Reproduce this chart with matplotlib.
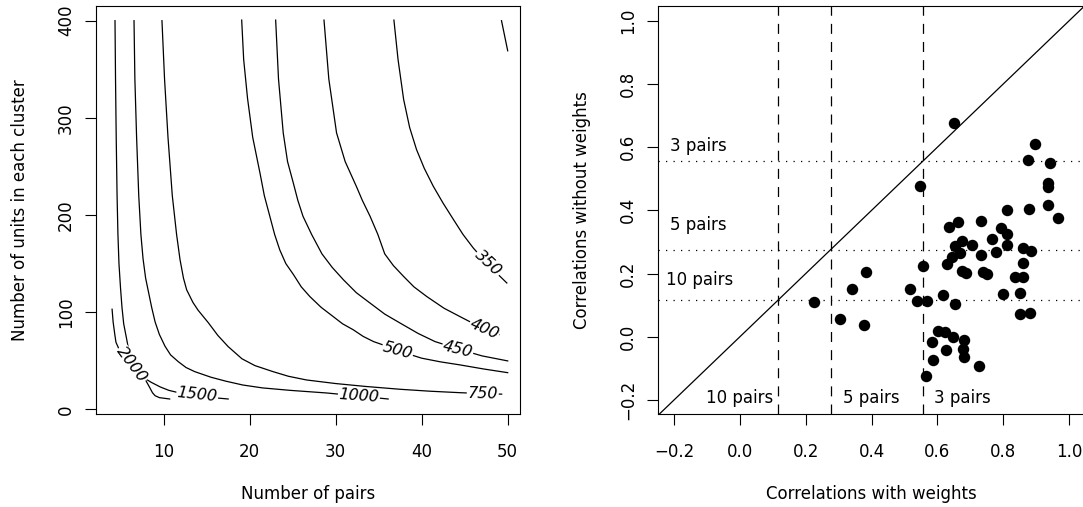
import matplotlib
matplotlib.use("Agg")
import matplotlib.pyplot as plt

plt.rcParams['font.family'] = 'DejaVu Sans'
plt.rcParams['font.size'] = 12

# Panneau gauche : lignes de niveau (paires, unités par cluster)
niv_2000_x = [4.0, 4.12, 4.3, 4.45, 4.9, 5.6, 6.35, 7.2, 7.9, 8.4, 8.7, 9.0, 9.5, 10.7]
niv_2000_y = [103, 90, 78, 69, 60, 52, 46, 38, 30, 22, 17, 14, 12, 10.6]
niv_1500_x = [4.34, 4.40, 4.48, 4.58, 4.68, 4.80, 4.98, 5.15, 5.35, 5.70, 5.95, 6.3,
              6.9, 7.6, 8.5, 9.6, 10.6, 12.0, 14.0, 16.0, 17.5]
niv_1500_y = [400, 340, 280, 220, 180, 150, 125, 105, 88, 72, 60, 49,
              40, 33, 28, 23, 19.5, 16.5, 14, 11.8, 10.6]
niv_1000_x = [6.55, 6.65, 6.85, 7.1, 7.35, 7.6, 7.9, 8.25, 8.6, 9.0, 9.5, 10.15, 10.8,
              11.7, 12.6, 13.6, 15.5, 17.2, 19.2, 21.5, 24.7, 28.95, 32.7, 36.1]
niv_1000_y = [400, 340, 280, 220, 180, 155, 135, 120, 105, 90, 77, 65, 56,
              49, 43, 38.8, 33, 29, 25, 22, 19.5, 16.8, 13.6, 10.6]
niv_750_x = [9.8, 10.1, 10.5, 11.0, 11.5, 11.9, 12.3, 12.67, 13.4, 14.0, 15.2, 16.3,
             17.5, 19.1, 20.6, 22.7, 24.5, 26.6, 30.0, 33.5, 37.5, 41.0, 44.45, 47.5, 49.3]
niv_750_y = [400, 340, 280, 220, 180, 154, 135, 123, 110, 102, 89, 76,
             64.5, 52, 45, 38.8, 34, 30.2, 26.5, 23.5, 20.6, 18.6, 17.1, 16.0, 15.6]
niv_500_x = [19.07, 19.3, 19.75, 20.35, 21.2, 21.7, 22.3, 22.9, 23.5, 24.2, 25.1, 26.0,
             27.0, 28.3, 29.7, 30.8, 32.05, 33.2, 34.4, 37.2, 38.6, 40.0, 42.2, 44.45,
             47.2, 50.0]
niv_500_y = [400.6, 360, 320, 280, 243, 220, 200, 180, 164, 150, 138.5, 126,
             116, 105, 95.5, 88, 81.8, 75, 69.7, 61, 56.5, 52.6, 48.8, 45.7,
             41.5, 37.7]
niv_450_x = [23.02, 23.35, 23.9, 24.4, 25.07, 25.6, 26.2, 27.2, 28.4, 29.6, 30.9, 32.4,
             34.0, 35.7, 37.5, 39.6, 41.55, 44.2, 47.0, 50.0]
niv_450_y = [400.6, 340, 284.5, 255, 233, 215, 198.6, 180, 160, 146, 133.3, 120,
             109.3, 98, 88.7, 78, 69.7, 62.2, 55, 49.8]
niv_400_x = [28.64, 29.2, 30.1, 31.1, 32.4, 33.1, 34.0, 34.9, 35.7, 36.7, 37.9, 39.1,
             40.6, 42.6, 44.8, 46.3, 47.3, 49.0]
niv_400_y = [400.6, 340, 284.5, 255, 229.5, 215, 198.6, 180, 160, 148, 136.7, 126,
             116, 104, 93.8, 87, 83, 77]
niv_350_x = [36.77, 37.25, 37.9, 38.6, 39.4, 40.3, 41.35, 42.5, 43.7, 44.8, 46.0, 47.7, 49.9]
niv_350_y = [400.6, 360, 318.9, 290, 267.3, 248, 229.5, 212, 195.2, 180, 166, 149, 130]
niv_300_x = [49.28, 50.0]
niv_300_y = [400, 369]

niveaux = [
    ('2000', niv_2000_x, niv_2000_y),
    ('1500', niv_1500_x, niv_1500_y),
    ('1000', niv_1000_x, niv_1000_y),
    ('750', niv_750_x, niv_750_y),
    ('500', niv_500_x, niv_500_y),
    ('450', niv_450_x, niv_450_y),
    ('400', niv_400_x, niv_400_y),
    ('350', niv_350_x, niv_350_y),
    ('300', niv_300_x, niv_300_y),
]

# placement des étiquettes (x, y, rotation)
etiquettes = {
    '2000': (6.3, 46, -53),
    '1500': (13.9, 14.6, -6),
    '1000': (32.7, 13.4, -4),
    '750': (47.1, 16, -1),
    '500': (37.2, 60.5, -15),
    '450': (44.2, 62.2, -14),
    '400': (47.3, 83, -24),
    '350': (47.7, 150, -43),
}

# Panneau droit : corrélations avec / sans poids
corr_avec = [0.651, 0.548, 0.896, 0.874, 0.943, 0.935, 0.937, 0.935, 0.965, 0.877,
             0.812, 0.731, 0.663, 0.636, 0.793, 0.812, 0.765, 0.676, 0.706, 0.653,
             0.812, 0.860, 0.883, 0.777, 0.733, 0.643, 0.668, 0.859, 0.630, 0.555,
             0.383, 0.676, 0.686, 0.739, 0.751, 0.835, 0.860, 0.342, 0.516, 0.618,
             0.798, 0.852, 0.539, 0.569, 0.225, 0.653, 0.304, 0.377, 0.850, 0.882,
             0.601, 0.623, 0.648, 0.680, 0.582, 0.678, 0.680, 0.626, 0.587, 0.727,
             0.564]
corr_sans = [0.677, 0.477, 0.609, 0.558, 0.549, 0.485, 0.473, 0.417, 0.375, 0.403,
             0.401, 0.366, 0.364, 0.346, 0.343, 0.324, 0.310, 0.304, 0.290, 0.287,
             0.290, 0.280, 0.272, 0.269, 0.259, 0.253, 0.264, 0.234, 0.230, 0.224,
             0.206, 0.209, 0.201, 0.206, 0.198, 0.190, 0.190, 0.150, 0.151, 0.132,
             0.134, 0.137, 0.114, 0.114, 0.111, 0.103, 0.056, 0.036, 0.071, 0.074,
             0.018, 0.016, -0.002, -0.010, -0.016, -0.040, -0.063, -0.042, -0.074, -0.093,
             -0.123]

seuils = [0.115, 0.276, 0.557]

W, H = 1083, 507
fig = plt.figure(figsize=(W / 100, H / 100), dpi=100)
ax1 = fig.add_axes([96 / W, 93 / H, 424 / W, 408 / H])
ax2 = fig.add_axes([658 / W, 93 / H, 427 / W, 408 / H])

for ax in (ax1, ax2):
    for s in ax.spines.values():
        s.set_linewidth(0.8)
    ax.tick_params(direction='out', length=7.7, width=0.8, labelsize=12)
    ax.tick_params(axis='x', pad=13)
    ax.tick_params(axis='y', pad=7.5, labelrotation=90)

# --- contours
for nom, xs, ys in niveaux:
    ax1.plot(xs, ys, color='black', lw=0.9, zorder=2)
for nom, (x, y, rot) in etiquettes.items():
    ax1.text(x, y, nom, rotation=rot, ha='center', va='center', fontsize=11.5,
             fontstyle='italic', rotation_mode='anchor', zorder=3,
             bbox=dict(fc='white', ec='none', pad=0.6))

ax1.set_xlim(2.13, 51.43)
ax1.set_ylim(-4.84, 415.1)
ax1.set_xticks([10, 20, 30, 40, 50])
ax1.set_yticks([0, 100, 200, 300, 400])
for lab in ax1.get_yticklabels():
    lab.set_verticalalignment('center')
ax1.set_xlabel('Number of pairs')
ax1.set_ylabel('Number of units in each cluster')
ax1.xaxis.set_label_coords(0.5, -0.175)
ax1.yaxis.set_label_coords(-0.158, 0.5)

# --- nuage de points
ax2.scatter(corr_avec, corr_sans, s=68, color='black', zorder=3, linewidths=0)
ax2.axline((0, 0), slope=1, color='black', lw=0.9)
for v in seuils:
    ax2.axvline(v, color='black', lw=0.9, linestyle=(0, (8, 6.5)))
    ax2.axhline(v, color='black', lw=0.9, linestyle=(0, (1, 5)))

ax2.text(-0.125, 0.603, '3 pairs', ha='center', va='center')
ax2.text(-0.125, 0.355, '5 pairs', ha='center', va='center')
ax2.text(-0.123, 0.180, '10 pairs', ha='center', va='center')
ax2.text(0.0, -0.195, '10 pairs', ha='center', va='center')
ax2.text(0.40, -0.195, '5 pairs', ha='center', va='center')
ax2.text(0.676, -0.195, '3 pairs', ha='center', va='center')

ax2.set_xlim(-0.2486, 1.048)
ax2.set_ylim(-0.2443, 1.0465)
ticks = [-0.2, 0.0, 0.2, 0.4, 0.6, 0.8, 1.0]
ax2.set_xticks(ticks)
ax2.set_yticks(ticks)
ax2.set_xticklabels([f'{t:.1f}'.replace('-', '\u2212') for t in ticks])
ax2.set_yticklabels([f'{t:.1f}'.replace('-', '\u2212') for t in ticks], rotation=90, va='center')
ax2.set_xlabel('Correlations with weights')
ax2.set_ylabel('Correlations without weights')
ax2.xaxis.set_label_coords(0.5, -0.175)
ax2.yaxis.set_label_coords(-0.157, 0.5)

fig.savefig('out.png', dpi=100)
